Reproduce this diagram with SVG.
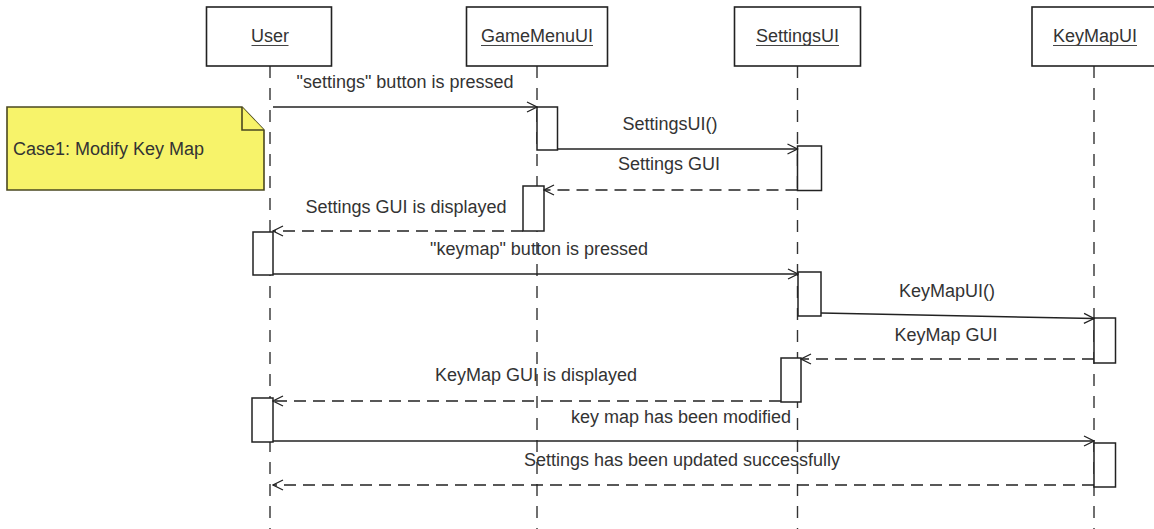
<svg xmlns="http://www.w3.org/2000/svg" width="1154" height="529" viewBox="0 0 1154 529">
<style>
  text { font-family: "Liberation Sans", Arial, sans-serif; font-size: 18px; fill: #333; }
  .box { fill: #fff; stroke: #222; stroke-width: 1.6; }
  .life { stroke: #333; stroke-width: 1.4; stroke-dasharray: 12 10; fill: none; }
  .act { fill: #fff; stroke: #222; stroke-width: 1.5; }
  .uline { stroke: #444; stroke-width: 1.2; }
  .call { stroke: #222; stroke-width: 1.4; fill: none; marker-end: url(#open); }
  .ret { stroke: #222; stroke-width: 1.4; fill: none; stroke-dasharray: 12 7; marker-end: url(#open); }
  .lbl { text-anchor: middle; }
  .note { fill: #f7f36a; stroke: #4a4820; stroke-width: 1.6; }
</style>
<defs>
  <marker id="open" viewBox="0 0 12 12" refX="11" refY="6" markerWidth="12" markerHeight="12" markerUnits="userSpaceOnUse" orient="auto">
    <path d="M1,1 L11,6 L1,11" fill="none" stroke="#222" stroke-width="1.3"/>
  </marker>
</defs>
<rect width="1154" height="529" fill="#fff"/>

<g id="note-case1">
  <polygon class="note" points="7,107 242,107 264,130 264,190 7,190"/>
  <polyline class="note" points="242,107 242,130 264,130" fill="none"/>
  <text x="13" y="155">Case1: Modify Key Map</text>
</g>

<g id="user">
  <line class="life" x1="270" y1="66" x2="270" y2="529"/>
  <rect class="box" x="206.5" y="7" width="125" height="59"/>
  <text class="lbl" x="270" y="42">User</text>
  <line class="uline" x1="251.5" y1="45.5" x2="288.5" y2="45.5"/>
  <rect class="act" x="253" y="232" width="20" height="43"/>
  <rect class="act" x="252" y="398" width="21" height="44"/>
</g>

<g id="gamemenuui">
  <line class="life" x1="537" y1="66" x2="537" y2="529"/>
  <rect class="box" x="466.5" y="7" width="141" height="59"/>
  <text class="lbl" x="537" y="42">GameMenuUI</text>
  <line class="uline" x1="481" y1="45.5" x2="593" y2="45.5"/>
  <rect class="act" x="537" y="107" width="20.5" height="43"/>
  <rect class="act" x="523" y="186" width="21" height="45"/>
</g>

<g id="settingsui">
  <line class="life" x1="797.5" y1="66" x2="797.5" y2="529"/>
  <rect class="box" x="734.5" y="7" width="126" height="59"/>
  <text class="lbl" x="797.5" y="42">SettingsUI</text>
  <line class="uline" x1="756" y1="45.5" x2="839" y2="45.5"/>
  <rect class="act" x="797.5" y="146" width="24" height="44.5"/>
  <rect class="act" x="798" y="272" width="23" height="44"/>
  <rect class="act" x="781" y="358" width="20" height="44"/>
</g>

<g id="keymapui">
  <line class="life" x1="1094" y1="66" x2="1094" y2="529"/>
  <rect class="box" x="1032" y="7" width="126" height="59"/>
  <text class="lbl" x="1095" y="42">KeyMapUI</text>
  <line class="uline" x1="1053" y1="45.5" x2="1137" y2="45.5"/>
  <rect class="act" x="1094" y="318" width="21.5" height="45"/>
  <rect class="act" x="1094" y="443" width="21.5" height="44"/>
</g>

<g id="connectors">
  <line class="call" x1="273" y1="107" x2="537" y2="107"/>
  <text class="lbl" x="405" y="88">"settings" button is pressed</text>

  <line class="call" x1="557.5" y1="149" x2="797.5" y2="149"/>
  <text class="lbl" x="670" y="130">SettingsUI()</text>

  <line class="ret" x1="797.5" y1="190" x2="544" y2="190"/>
  <text class="lbl" x="669" y="170">Settings GUI</text>

  <line class="ret" x1="523" y1="231" x2="273" y2="231"/>
  <text class="lbl" x="406" y="213">Settings GUI is displayed</text>

  <line class="call" x1="273" y1="274" x2="798" y2="274"/>
  <text class="lbl" x="539" y="255">"keymap" button is pressed</text>

  <line class="call" x1="821" y1="313" x2="1094" y2="318.5"/>
  <text class="lbl" x="947" y="297">KeyMapUI()</text>

  <line class="ret" x1="1094" y1="359" x2="801" y2="359"/>
  <text class="lbl" x="946" y="341">KeyMap GUI</text>

  <line class="ret" x1="781" y1="401" x2="273" y2="401"/>
  <text class="lbl" x="536" y="381">KeyMap GUI is displayed</text>

  <line class="call" x1="273" y1="441" x2="1094" y2="441"/>
  <text class="lbl" x="681" y="423">key map has been modified</text>

  <line class="ret" x1="1094" y1="485" x2="273" y2="485"/>
  <text class="lbl" x="682" y="466">Settings has been updated successfully</text>
</g>
</svg>
